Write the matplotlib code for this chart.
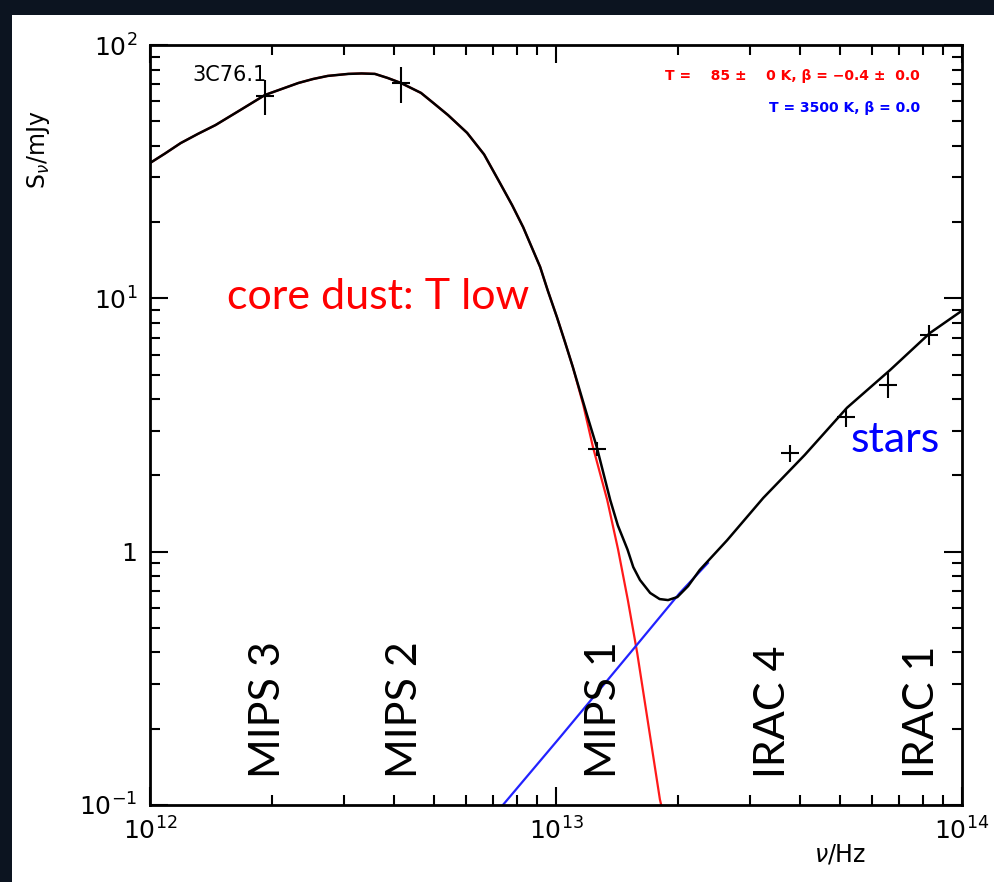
import matplotlib
matplotlib.use("Agg")
import matplotlib.pyplot as plt
import numpy as np
from matplotlib.patches import Rectangle
from matplotlib.ticker import FixedLocator, FixedFormatter, LogLocator, NullFormatter

# ---------------- data ----------------
# far-IR part of the model, where total (black) and cold dust (red) coincide
peak_nu = [1.00e12, 1.089e12, 1.19e12, 1.313e12, 1.45e12, 1.667e12, 1.92e12, 2.32e12,
           2.52e12, 2.74e12, 3.08e12, 3.32e12, 3.58e12, 3.85e12, 4.15e12, 4.65e12,
           5.01e12, 5.42e12, 6.04e12, 6.65e12, 7.28e12, 7.80e12, 8.30e12, 8.73e12,
           9.14e12, 9.55e12, 1.005e13, 1.052e13, 1.10e13]
peak_S = [34.2, 37.3, 41.0, 44.6, 48.3, 55.3, 63.5, 70.8,
          73.4, 75.5, 76.9, 77.2, 76.9, 74.1, 70.8, 64.7,
          58.7, 52.9, 45.0, 37.0, 28.5, 23.3, 19.1, 15.8,
          13.3, 10.7, 8.44, 6.73, 5.36]

# total model (black) beyond the shared part
total_tail_nu = [1.19e13, 1.26e13, 1.36e13, 1.42e13, 1.50e13, 1.55e13, 1.61e13, 1.706e13,
                 1.80e13, 1.888e13, 1.99e13, 2.115e13, 2.26e13, 2.64e13, 3.24e13, 4.10e13,
                 5.21e13, 6.65e13, 8.34e13, 9.89e13]
total_tail_S = [3.50, 2.59, 1.60, 1.27, 1.02, 0.869, 0.773, 0.687,
                0.650, 0.644, 0.662, 0.731, 0.847, 1.11, 1.63, 2.41,
                3.70, 5.21, 7.30, 8.83]

# cold dust component (red) beyond the shared part
dust_tail_nu = [1.167e13, 1.233e13, 1.337e13, 1.422e13, 1.503e13, 1.585e13, 1.675e13,
                1.803e13, 1.83e13]
dust_tail_S = [3.80, 2.59, 1.60, 1.02, 0.644, 0.398, 0.225, 0.105, 0.095]

# stellar component (blue)
stars_nu = [7.40e12, 1.023e13, 1.567e13, 2.018e13, 2.366e13]
stars_S = [0.100, 0.185, 0.421, 0.687, 0.902]

# photometry
obs_nu = [1.92e12, 4.15e12, 1.26e13, 3.77e13, 5.17e13, 6.57e13, 8.30e13]
obs_S = [63.0, 70.5, 2.55, 2.45, 3.40, 4.55, 7.17]
obs_err = [10.0, 11.5, 0.17, 0.19, 0.30, 0.50, 0.65]

band_names = ["MIPS 3", "MIPS 2", "MIPS 1", "IRAC 4", "IRAC 1"]
band_label_nu = [1.95e12, 4.25e12, 1.31e13, 3.42e13, 7.95e13]

y_ticks = [0.1, 1, 10, 100]
y_ticklabels = [r"$10^{-1}$", "1", r"$10^{1}$", r"$10^{2}$"]
x_ticks = [1e12, 1e13, 1e14]
x_ticklabels = [r"$10^{12}$", r"$10^{13}$", r"$10^{14}$"]

source_name = "3C76.1"
fit_dust = "T =    85 \u00b1    0 K, \u03b2 = \u22120.4 \u00b1  0.0"
fit_stars = "T = 3500 K, \u03b2 = 0.0"

total_nu = peak_nu + total_tail_nu
total_S = peak_S + total_tail_S
dust_nu = peak_nu + dust_tail_nu
dust_S = peak_S + dust_tail_S

# ---------------- figure ----------------
W, H = 994, 882
fig = plt.figure(figsize=(W / 100, H / 100), dpi=100)
fig.patch.set_facecolor("#0c1420")
fig.patches.append(Rectangle((12 / W, 0), 1, 1 - 15 / H, transform=fig.transFigure,
                             facecolor="white", edgecolor="none", zorder=-10))

ax = fig.add_axes([150 / W, 1 - 805 / H, (962 - 150) / W, (805 - 45) / H])
ax.set_zorder(5)
ax.set_facecolor("white")
ax.set_xscale("log")
ax.set_yscale("log")
ax.set_xlim(1e12, 1e14)
ax.set_ylim(0.1, 100)

ax.plot(dust_nu, dust_S, color="#ff1a1a", lw=1.6, zorder=2)
ax.plot(stars_nu, stars_S, color="#2222ff", lw=1.6, zorder=2)
ax.plot(total_nu, total_S, color="black", lw=1.8, zorder=3)

ax.errorbar(obs_nu, obs_S, yerr=obs_err, fmt="none", ecolor="black", elinewidth=1.5,
            capsize=0, zorder=4)
ax.plot(obs_nu, obs_S, ls="none", marker="_", ms=13, mew=1.5, color="black", zorder=4)

# ticks
ax.xaxis.set_major_locator(FixedLocator(x_ticks))
ax.xaxis.set_major_formatter(FixedFormatter(x_ticklabels))
ax.xaxis.set_minor_locator(LogLocator(base=10, subs=np.arange(2, 10), numticks=20))
ax.xaxis.set_minor_formatter(NullFormatter())
ax.yaxis.set_major_locator(FixedLocator(y_ticks))
ax.yaxis.set_major_formatter(FixedFormatter(y_ticklabels))
ax.yaxis.set_minor_locator(LogLocator(base=10, subs=np.arange(2, 10), numticks=20))
ax.yaxis.set_minor_formatter(NullFormatter())
ax.tick_params(which="both", direction="in", top=True, right=True, width=1.5,
               colors="black", labelsize=18)
ax.tick_params(which="major", length=13, pad=9)
ax.tick_params(which="minor", length=7)
for sp in ax.spines.values():
    sp.set_linewidth(2)

fig.text(840 / W, 1 - 855 / H, r"$\nu$/Hz", fontsize=17, ha="center", va="center")
fig.text(38 / W, 1 - 150 / H, r"S$_\nu$/mJy", fontsize=17, ha="center", va="center",
         rotation=90)

ax.text(230 / W, 1 - 75 / H, source_name, transform=fig.transFigure, fontsize=15,
        ha="center", va="center")
ax.text(920 / W, 1 - 76 / H, fit_dust, transform=fig.transFigure, fontsize=10,
        color="red", ha="right", va="center", fontweight="bold")
ax.text(920 / W, 1 - 108 / H, fit_stars, transform=fig.transFigure, fontsize=10,
        color="blue", ha="right", va="center", fontweight="bold")

big = dict(family=["Lato", "DejaVu Sans"], fontsize=31)
ax.text(378 / W, 1 - 297 / H, "core dust: T low", transform=fig.transFigure,
        color="red", ha="center", va="center", **big)
ax.text(895 / W, 1 - 440 / H, "stars", transform=fig.transFigure,
        color="blue", ha="center", va="center", **big)

for name, nu in zip(band_names, band_label_nu):
    ax.text(nu, 0.128, name, rotation=90, ha="center", va="bottom", color="black",
            **big)

fig.savefig("out.png", dpi=100, facecolor=fig.get_facecolor())
